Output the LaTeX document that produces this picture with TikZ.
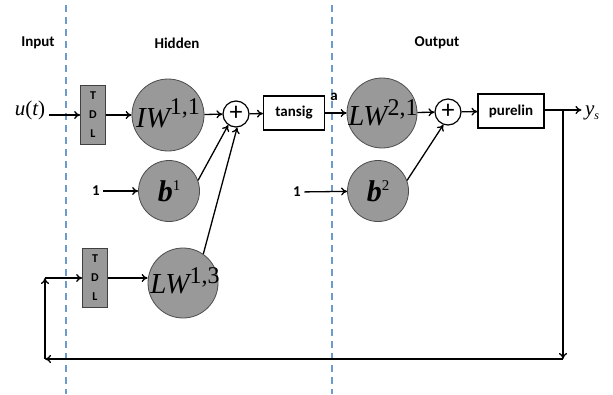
\documentclass[tikz,border=0pt]{standalone}
\usepackage{fontspec}
\setmainfont{Liberation Serif}
\newfontfamily\labfont{Carlito}
\usetikzlibrary{arrows.meta}
\newcommand{\wlab}[3]{{\fontsize{29}{29}\selectfont\itshape #1}\raisebox{#3}{\fontsize{24}{24}\selectfont #2}}
\newcommand{\blab}[1]{{\fontsize{30}{30}\selectfont\itshape\bfseries b}\raisebox{11pt}{\fontsize{15}{15}\selectfont #1}}
\begin{document}
\begin{tikzpicture}[x=1pt,y=-1pt,
  neuron/.style={circle, draw=black!70, line width=0.8pt, fill=black!40, minimum size=#1, inner sep=0pt},
  tdlbox/.style={draw=black!75, line width=0.8pt, fill=black!40, minimum width=25pt, minimum height=59pt, inner sep=0pt, align=center, font=\labfont\bfseries\fontsize{12}{19}\selectfont},
  sumnode/.style={circle, draw=black, line width=1.2pt, fill=white, minimum size=26pt, inner sep=0pt, font=\labfont\fontsize{26}{26}\selectfont},
  fnbox/.style={draw=black, line width=1.2pt, fill=white, minimum height=34pt, inner sep=0pt, font=\labfont\bfseries\fontsize{15}{15}\selectfont},
  lab/.style={font=\labfont\bfseries\fontsize{15}{15}\selectfont},
  conn/.style={draw=black, line width=1.3pt, -{To[length=6pt,width=8pt]}},
  sep/.style={draw={rgb,255:red,110;green,155;blue,205}, line width=1.5pt, dash pattern=on 7pt off 5pt}
]
\useasboundingbox (0,0) rectangle (613,394);
% separators
\draw[sep] (66,5) -- (66,394);
\draw[sep] (332,5) -- (332,394);
% titles
\node[lab] (tin) at (38,43) {Input};
\node[lab] (thid) at (177,43) {Hidden};
\node[lab] (tout) at (437,43) {Output};
% top row
\node (u) at (30,110) {\fontsize{21}{21}\selectfont\itshape u\upshape(\itshape t\upshape)};
\node[tdlbox] (tdl1) at (93,115) {T\\D\\L};
\node[neuron=72pt] (iw) at (168,115) {};
\node at (168,113) {\wlab{IW}{1,1}{13pt}};
\node[sumnode] (s1) at (236,114) {\raisebox{1.5pt}{+}};
\node[fnbox, minimum width=61pt] (tansig) at (294,113) {tansig};
\node[lab] (a) at (334,97) {a};
\node[neuron=70pt] (lw21) at (382,113) {};
\node at (383,113) {\wlab{LW}{2,1}{10pt}};
\node[sumnode] (s2) at (448,112) {\raisebox{1.5pt}{+}};
\node[fnbox, minimum width=66pt] (purelin) at (511,111) {purelin};
\node (ys) at (592,113) {\fontsize{21}{21}\selectfont\itshape y\raisebox{-4pt}{\fontsize{12}{12}\selectfont s}};
\coordinate (br) at (563,110);
\coordinate (brd) at (563,359);
\coordinate (bl) at (45,359);
\coordinate (tl) at (45,278);
% bias row
\node[lab] (one1) at (96,191) {1};
\node[neuron=61pt] (b1) at (169,191) {\blab{1}};
\node[lab] (one2) at (297,192) {1};
\node[neuron=61pt] (b2) at (378,191) {\blab{2}};
% recurrent row
\node[tdlbox] (tdl2) at (95,278) {T\\D\\L};
\node[neuron=70pt] (lw13) at (183,283) {};
\node at (185,281) {\wlab{LW}{1,3}{10pt}};
% connectors
\draw[conn] (u.east |- tdl1.west) -- (tdl1.west);
\draw[conn] (tdl1) -- (iw);
\draw[conn] (iw) -- (s1);
\draw[conn] (s1) -- (tansig);
\draw[conn] (tansig) -- (lw21);
\draw[conn] (lw21) -- (s2);
\draw[conn] (s2) -- (purelin);
\draw[conn] (purelin.east |- br) -- (ys.west |- br);
\draw[conn] (one1) -- (b1);
\draw[conn] (b1.20) -- (s1.235);
\draw[conn] (one2) -- (b2);
\draw[conn] (b2.20) -- (s2.250);
\draw[conn] (lw13.55) -- (s1.275);
\draw[conn] (br) -- (brd);
\draw[conn] (brd) -- (bl);
\draw[conn] (bl) -- (tl);
\draw[conn] (tl) -- (tdl2.west |- tl);
\draw[conn] (tdl2.east |- tl) -- (lw13.west |- tl);
\end{tikzpicture}
\end{document}
